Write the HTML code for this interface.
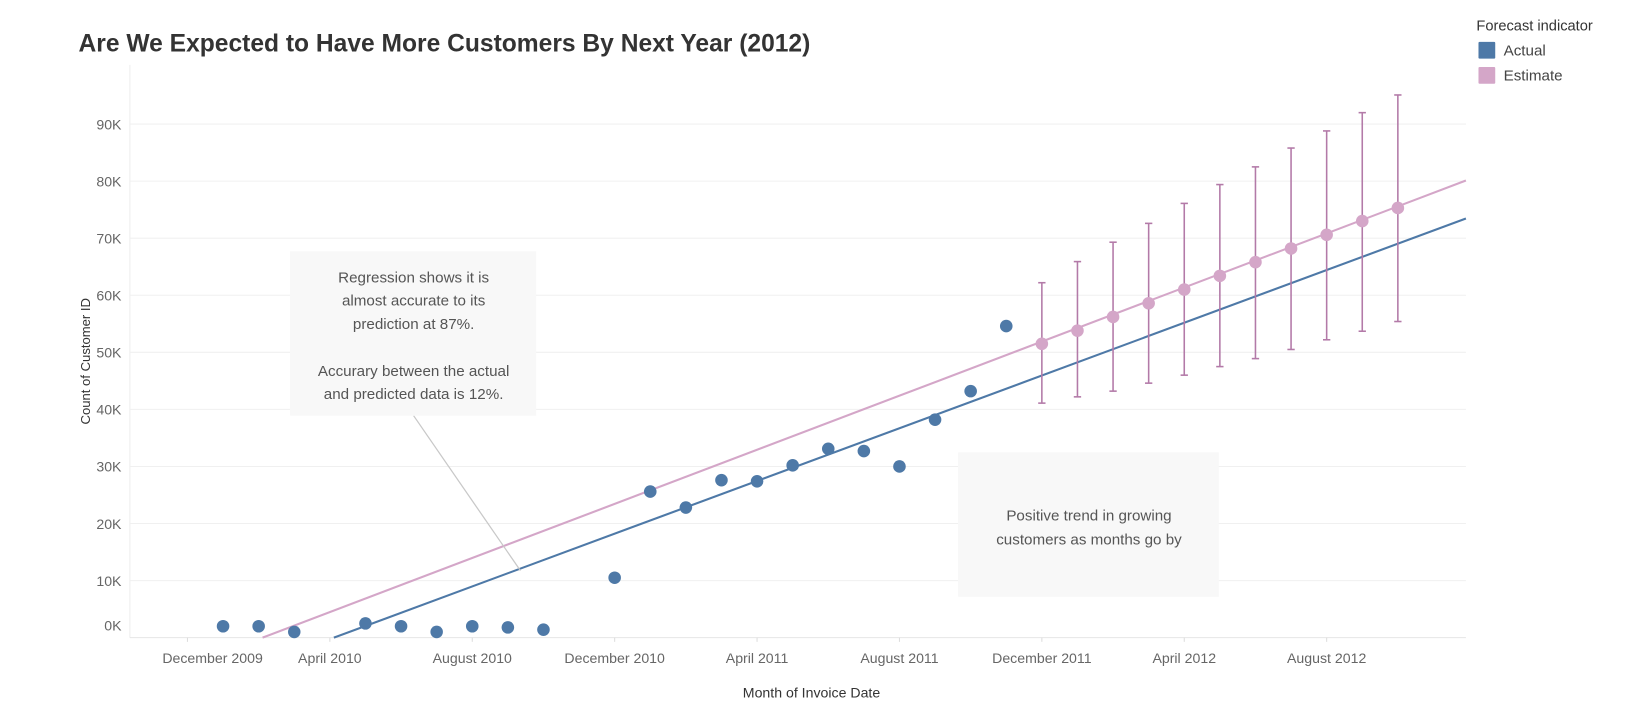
<!DOCTYPE html>
<html><head><meta charset="utf-8"><style>
html,body{margin:0;padding:0;background:#fff;width:1645px;height:712px;overflow:hidden}
svg{display:block;font-family:"Liberation Sans",sans-serif}
</style></head><body>
<svg id="chart" width="1645" height="712" viewBox="0 0 1571 680" xmlns="http://www.w3.org/2000/svg">
<text x="75" y="49" font-size="23.5" font-weight="bold" fill="#333">Are We Expected to Have More Customers By Next Year (2012)</text>
<g>
<text x="1410" y="29" font-size="14" fill="#333">Forecast indicator</text>
<rect x="1412" y="40" width="16" height="16" fill="#4e79a7" rx="1"/>
<text x="1436" y="53" font-size="14.5" fill="#444">Actual</text>
<rect x="1412" y="64" width="16" height="16" fill="#d4a6c8" rx="1"/>
<text x="1436" y="77" font-size="14.5" fill="#444">Estimate</text>
</g>
<g id="grid"></g>
<g id="yaxis"></g>
<g id="xaxis"></g>
<text transform="translate(86,345) rotate(-90)" text-anchor="middle" font-size="12.5" fill="#333">Count of Customer ID</text>
<text x="775" y="666" text-anchor="middle" font-size="13.5" fill="#333">Month of Invoice Date</text>
<g id="trends"></g>
<g id="marks"></g>
<g>
<line x1="395" y1="397" x2="497" y2="545" stroke="#c8c8c8" stroke-width="1.2"/>
<rect x="277" y="240" width="235" height="157" fill="#f8f8f8"/>
<g font-size="14.5" fill="#555" text-anchor="middle">
<text x="395" y="270">Regression shows it is</text>
<text x="395" y="292">almost accurate to its</text>
<text x="395" y="314">prediction at 87%.</text>
<text x="395" y="359">Accurary between the actual</text>
<text x="395" y="381">and predicted data is 12%.</text>
</g></g>
<g>
<rect x="915" y="432" width="249" height="138" fill="#f8f8f8"/>
<g font-size="14.5" fill="#555" text-anchor="middle">
<text x="1040" y="497">Positive trend in growing</text>
<text x="1040" y="520">customers as months go by</text>
</g></g>
</svg>
<script>
const actualMonths=[1,2,3,5,6,7,8,9,10,12,13,14,15,16,17,18,19,20,21,22,23];
const actualValues=[2,2,1,2.5,2,1,2,1.8,1.4,10.5,25.6,22.8,27.6,27.4,30.2,33.1,32.7,30,38.2,43.2,54.6];
const estMonths=[24,25,26,27,28,29,30,31,32,33,34];
const estValues=[51.5,53.8,56.2,58.6,61,63.4,65.8,68.2,70.6,73,75.3];
const estLower=[41.1,42.2,43.2,44.6,46,47.5,48.9,50.5,52.2,53.7,55.4];
const estUpper=[62.2,65.9,69.3,72.6,76.1,79.4,82.5,85.8,88.8,92,95.1];
const trendActual=[-9.5,2.31];
const trendEstimate=[-5.0,2.37];
const yTicks=[0,10,20,30,40,50,60,70,80,90];
const xTickMonths=[0,4,8,12,16,20,24,28,32];
const xTickLabels=["December 2009","April 2010","August 2010","December 2010","April 2011","August 2011","December 2011","April 2012","August 2012"];
const NS="http://www.w3.org/2000/svg";
const L=124,R=1400,B=609;
const x=m=>179+34*m;
const y=v=>B-5.45*v;
function mk(tag,attrs,parent){const e=document.createElementNS(NS,tag);for(const k in attrs)e.setAttribute(k,attrs[k]);parent.appendChild(e);return e;}
const grid=document.getElementById('grid'),ya=document.getElementById('yaxis'),xa=document.getElementById('xaxis');
mk('line',{x1:L,y1:62,x2:L,y2:B,stroke:'#eee'},grid);
yTicks.forEach((t,i)=>{
 const g=mk('line',{x1:L,y1:y(t),x2:R,y2:y(t),stroke:i===0?'#e6e6e6':'#f0f0f0'},grid);
 
 
 const tx=mk('text',{x:116,y:(i===0?y(t)-7:y(t)+5),'text-anchor':'end','font-size':13.5,fill:'#666'},ya);
 tx.textContent=t+'K';
 
 
});
xTickMonths.forEach((m,i)=>{
 const tk=mk('line',{x1:x(m),y1:B,x2:x(m),y2:B+4,stroke:'#ddd'},xa);
 
 
 const cx=i===0?x(m)+24:x(m);
 const tx=mk('text',{x:cx,y:633,'text-anchor':'middle','font-size':13.5,fill:'#666'},xa);
 tx.textContent=xTickLabels[i];
 
 
});
const tr=document.getElementById('trends');
function trend(p,color,name){
 const m0=-p[0]/p[1];const m1=(R-179)/34;
 const l=mk('line',{x1:x(m0),y1:y(0),x2:x(m1),y2:y(p[0]+p[1]*m1),stroke:color,'stroke-width':2},tr);
 
 
}
trend(trendEstimate,'#d4a6c8','trend-line-estimate');
trend(trendActual,'#4e79a7','trend-line-actual');
const mg=document.getElementById('marks');
actualMonths.forEach((m,i)=>{
 const c=mk('circle',{cx:x(m),cy:y(actualValues[i]),r:6,fill:'#4e79a7'},mg);
 
 
});
estMonths.forEach((m,i)=>{
 const g=mk('g',{},mg);
 
 
 mk('line',{x1:x(m),y1:y(estLower[i]),x2:x(m),y2:y(estUpper[i]),stroke:'#b37aa8','stroke-width':1.5},g);
 mk('line',{x1:x(m)-3.5,y1:y(estLower[i]),x2:x(m)+3.5,y2:y(estLower[i]),stroke:'#b37aa8','stroke-width':1.5},g);
 mk('line',{x1:x(m)-3.5,y1:y(estUpper[i]),x2:x(m)+3.5,y2:y(estUpper[i]),stroke:'#b37aa8','stroke-width':1.5},g);
 const c=mk('circle',{cx:x(m),cy:y(estValues[i]),r:6,fill:'#d4a6c8'},mg);
 
 
});
</script>
</body></html>
